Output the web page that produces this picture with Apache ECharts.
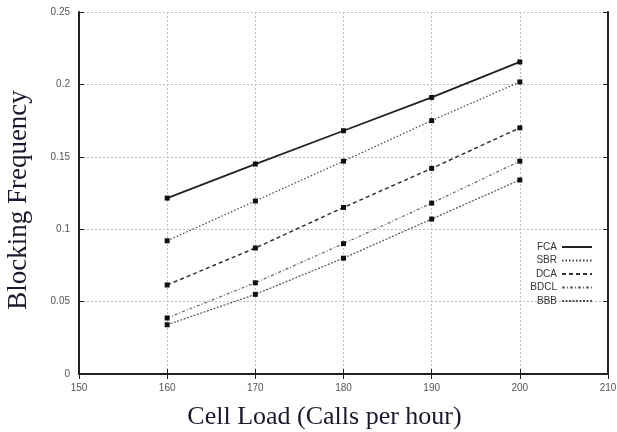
<!DOCTYPE html>
<html>
<head>
<meta charset="utf-8">
<script src="https://cdn.jsdelivr.net/npm/echarts@6/dist/echarts.min.js"></script>
<style>
html, body { margin: 0; padding: 0; background: #fff; }
#main { width: 617px; height: 432px; }
</style>
</head>
<body>
<div id="main"></div>
<script>
var loads = [160, 170, 180, 190, 200];
var fca = [0.1215, 0.145, 0.168, 0.191, 0.2155];
var sbr = [0.092, 0.1195, 0.147, 0.175, 0.2017];
var dca = [0.0615, 0.087, 0.115, 0.142, 0.170];
var bdcl = [0.0387, 0.063, 0.090, 0.118, 0.147];
var bbb = [0.034, 0.055, 0.080, 0.107, 0.134];
var yTicks = ['0', '0.05', '0.1', '0.15', '0.2', '0.25'];

var myChart = echarts.init(document.getElementById('main'));

function pairs(vals) {
    return loads.map(function (x, i) { return [x, vals[i]]; });
}

function mkSeries(name, vals, dash, color, width) {
    return {
        name: name,
        type: 'line',
        xAxisIndex: 0,
        yAxisIndex: 0,
        data: pairs(vals),
        symbol: 'rect',
        symbolSize: 5,
        itemStyle: { color: '#111' },
        lineStyle: { color: color, width: width, type: dash },
        emphasis: { disabled: true },
        z: 5
    };
}

var gridLine = {
    show: true,
    lineStyle: { color: '#bbb', width: 1, type: [2, 2] }
};

option = {
    animation: false,
    backgroundColor: '#fff',
    grid: { left: 79, right: 9, top: 12, bottom: 58, outerBoundsMode: 'none', containLabel: false },
    legend: {
        right: 19,
        top: 237,
        orient: 'vertical',
        align: 'right',
        itemWidth: 30,
        itemHeight: 8,
        itemGap: 3.5,
        itemStyle: { opacity: 0 },
        textStyle: { fontSize: 10, color: '#333', fontFamily: 'Liberation Sans' },
        data: ['FCA', 'SBR', 'DCA', 'BDCL', 'BBB']
    },
    xAxis: [{
        type: 'value',
        min: 150,
        max: 210,
        interval: 10,
        name: 'Cell Load (Calls per hour)',
        nameLocation: 'middle',
        nameGap: 30,
        nameTextStyle: { fontFamily: 'Liberation Serif', fontSize: 26, color: '#1a1a2e', padding: [0, 38, 0, 0] },
        axisLine: { lineStyle: { color: '#222', width: 2 } },
        axisTick: { inside: true, length: 5, lineStyle: { color: '#222' } },
        axisLabel: { fontSize: 10, color: '#555', margin: 9, fontFamily: 'Liberation Sans' },
        splitLine: gridLine
    }, {
        type: 'value',
        position: 'top',
        min: 150,
        max: 210,
        interval: 10,
        axisLine: { show: true, lineStyle: { color: '#222', width: 2 } },
        axisTick: { show: true, inside: true, length: 5, lineStyle: { color: '#222' } },
        axisLabel: { show: false },
        splitLine: { show: false }
    }],
    yAxis: [{
        type: 'value',
        min: 0,
        max: 0.25,
        interval: 0.05,
        name: 'Blocking Frequency',
        nameLocation: 'middle',
        nameGap: 47,
        nameTextStyle: { fontFamily: 'Liberation Serif', fontSize: 27, color: '#1a1a2e', padding: [0, 14, 0, 0] },
        axisLine: { show: true, lineStyle: { color: '#222', width: 2 } },
        axisTick: { show: true, inside: true, length: 5, lineStyle: { color: '#222' } },
        axisLabel: {
            fontSize: 10, color: '#555', margin: 9, fontFamily: 'Liberation Sans',
            formatter: function (v) { return yTicks[Math.round(v / 0.05)]; }
        },
        splitLine: gridLine
    }, {
        type: 'value',
        position: 'right',
        min: 0,
        max: 0.25,
        interval: 0.05,
        axisLine: { show: true, lineStyle: { color: '#222', width: 2 } },
        axisTick: { show: true, inside: true, length: 5, lineStyle: { color: '#222' } },
        axisLabel: { show: false },
        splitLine: { show: false }
    }],
    series: [
        mkSeries('FCA', fca, 'solid', '#222', 1.8),
        mkSeries('SBR', sbr, [1.5, 2], '#444', 1.2),
        mkSeries('DCA', dca, [4, 3], '#333', 1.5),
        mkSeries('BDCL', bdcl, [3, 2, 1, 2], '#666', 1.2),
        mkSeries('BBB', bbb, [2, 1.5], '#555', 1.2)
    ]
};
myChart.setOption(option);
</script>
</body>
</html>
